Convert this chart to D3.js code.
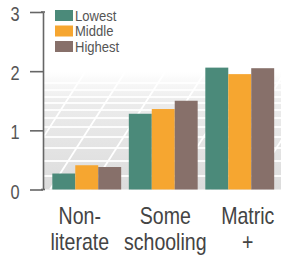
<!DOCTYPE html>
<html><head><meta charset="utf-8">
<script src="https://cdn.jsdelivr.net/npm/d3@7"></script>
<style>body{margin:0;background:#fff}svg{display:block}</style>
</head><body>
<script>
const categories = [["Non-","literate"],["Some","schooling"],["Matric","+"]];
const seriesNames = ["Lowest","Middle","Highest"];
const lowest = [0.27, 1.28, 2.06];
const middle = [0.41, 1.36, 1.95];
const highest = [0.38, 1.50, 2.05];
const yTicks = [0,1,2,3];
const colors = ["#4b8a7a","#f6a630","#87706a"];

const W=281,H=259;
const FONT="'Liberation Sans',Arial,sans-serif";
const svg=d3.select("body").append("svg").attr("width",W).attr("height",H);
const y=d3.scaleLinear().domain([0,3]).range([189.5,12]);
const x0=d3.scaleBand().domain(d3.range(3)).range([48.5,278]).paddingInner(0.1).paddingOuter(0.05);
const x1=d3.scaleBand().domain(d3.range(3)).range([0,x0.bandwidth()]);

// floor
const defs=svg.append("defs");
const g=defs.append("linearGradient").attr("id","fl").attr("x1",0).attr("x2",0).attr("y1",0).attr("y2",1);
g.append("stop").attr("offset","0").attr("stop-color","#fff");
g.append("stop").attr("offset","0.25").attr("stop-color","#ececec");
g.append("stop").attr("offset","1").attr("stop-color","#dcdcdc");
const fy0=72, fy1=y(0);
svg.append("rect").attr("x",43).attr("y",fy0).attr("width",W-43).attr("height",fy1-fy0).attr("fill","url(#fl)");
const grid=svg.append("g").attr("stroke","#fff").attr("stroke-width",1.8).attr("opacity",0.9);
[83,90,97,103,110,118,127,137,148,161,176].forEach(v=>grid.append("line").attr("x1",43).attr("x2",W).attr("y1",v).attr("y2",v));
svg.append("clipPath").attr("id","fc").append("rect").attr("x",43).attr("y",fy0).attr("width",W-43).attr("height",fy1-fy0);
const diag=svg.append("g").attr("clip-path","url(#fc)").attr("stroke","#fff").attr("stroke-width",1.8);
[10,50,90,130,170,210,250].forEach(bx=>diag.append("line").attr("x1",bx).attr("y1",fy1).attr("x2",bx+75).attr("y2",fy0));

// bars
const data=[lowest,middle,highest];
const bars=svg.append("g");
categories.forEach((c,i)=>{
  data.forEach((s,j)=>{
    bars.append("rect").attr("x",x0(i)+x1(j)).attr("width",x1.bandwidth())
      .attr("y",y(s[i])).attr("height",y(0)-y(s[i])).attr("fill",colors[j]);
  });
});

// axis
const ax=svg.append("g").attr("transform","translate(43,0)")
  .call(d3.axisLeft(y).tickValues(yTicks).tickFormat(d3.format("d")).tickSize(13).tickSizeOuter(0).tickPadding(5));
ax.select(".domain").attr("stroke","#666").attr("stroke-width",1.6);
ax.selectAll(".tick line").attr("stroke","#666").attr("stroke-width",1.6);
ax.selectAll(".tick text").remove();
ax.selectAll(".tick").append("text")
  .attr("transform","translate(-28,1) scale(0.78,1)")
  .attr("text-anchor","middle").attr("dy","0.36em")
  .attr("fill","#555").attr("font-size",21).attr("font-family",FONT)
  .text(d=>d3.format("d")(d));
svg.append("line").attr("x1",41).attr("x2",45).attr("y1",y(3)).attr("y2",y(3)).attr("stroke","#666").attr("stroke-width",1.6);
svg.append("line").attr("x1",41).attr("x2",45).attr("y1",y(0)).attr("y2",y(0)).attr("stroke","#666").attr("stroke-width",1.6);

// category labels
const labelShift=[-7,2,8];
categories.forEach((c,i)=>{
  const cx=x0(i)+x0.bandwidth()/2+labelShift[i];
  c.forEach((l,k)=>svg.append("text")
    .attr("transform",`translate(${cx},${224+k*26}) scale(0.85,1)`)
    .attr("text-anchor","middle").attr("fill","#444").attr("font-size",23)
    .attr("font-family",FONT).text(l));
});

// legend
const lg=svg.append("g");
seriesNames.forEach((n,j)=>{
  lg.append("rect").attr("x",55).attr("y",10+j*15.5).attr("width",18).attr("height",11).attr("fill",colors[j]);
  lg.append("text").attr("transform",`translate(75,${20.5+j*15.5}) scale(0.9,1)`).attr("fill","#555").attr("font-size",14.5)
    .attr("font-family",FONT).text(n);
});
</script>
</body></html>
